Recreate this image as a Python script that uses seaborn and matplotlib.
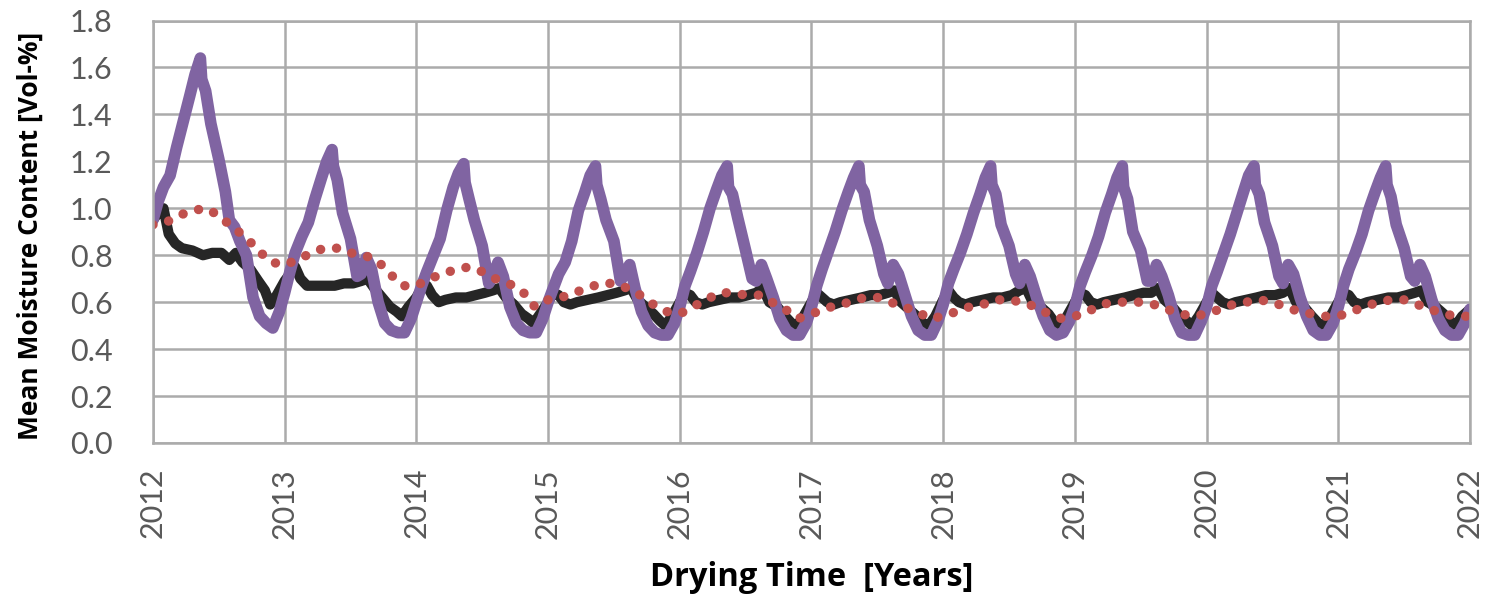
import matplotlib
matplotlib.use('Agg')
import matplotlib.pyplot as plt
import pandas as pd
import seaborn as sns

sns.set_style('white')
plt.rcParams['font.family'] = ['Lato', 'DejaVu Sans']

years = [2012, 2013, 2014, 2015, 2016, 2017, 2018, 2019, 2020, 2021]
end_year = 2022

# purple series: points within each year (fraction of year)
purple_offsets = [0.00, 0.04, 0.08, 0.13, 0.18, 0.23, 0.28, 0.32, 0.36, 0.37, 0.40, 0.44,
                  0.50, 0.55, 0.58, 0.62, 0.66, 0.71, 0.76, 0.81, 0.86, 0.91, 0.96]
purple_rows = [
    [0.95, 1.03, 1.09, 1.14, 1.26, 1.37, 1.48, 1.57, 1.64, 1.55, 1.50, 1.36, 1.21, 1.07, 0.95, 0.92, 0.86, 0.80, 0.62, 0.54, 0.51, 0.49, 0.56],
    [0.64, 0.73, 0.81, 0.88, 0.94, 1.04, 1.13, 1.20, 1.25, 1.18, 1.12, 0.98, 0.87, 0.71, 0.72, 0.79, 0.74, 0.60, 0.51, 0.48, 0.47, 0.47, 0.53],
    [0.60, 0.67, 0.73, 0.80, 0.87, 0.99, 1.09, 1.15, 1.19, 1.11, 1.04, 0.95, 0.84, 0.68, 0.71, 0.77, 0.71, 0.58, 0.51, 0.48, 0.47, 0.47, 0.53],
    [0.60, 0.66, 0.72, 0.77, 0.86, 0.99, 1.07, 1.14, 1.18, 1.10, 1.04, 0.95, 0.86, 0.69, 0.72, 0.76, 0.66, 0.56, 0.50, 0.47, 0.46, 0.46, 0.51],
    [0.58, 0.67, 0.73, 0.81, 0.90, 1.00, 1.08, 1.14, 1.18, 1.09, 1.06, 0.96, 0.82, 0.70, 0.69, 0.76, 0.70, 0.62, 0.53, 0.48, 0.46, 0.46, 0.51],
    [0.58, 0.67, 0.74, 0.82, 0.90, 0.99, 1.07, 1.13, 1.18, 1.10, 1.07, 0.95, 0.84, 0.72, 0.68, 0.76, 0.72, 0.63, 0.54, 0.48, 0.46, 0.46, 0.52],
    [0.59, 0.68, 0.74, 0.81, 0.89, 0.98, 1.06, 1.13, 1.18, 1.10, 1.06, 0.93, 0.84, 0.72, 0.68, 0.76, 0.71, 0.62, 0.54, 0.48, 0.46, 0.47, 0.52],
    [0.58, 0.67, 0.73, 0.80, 0.88, 0.98, 1.06, 1.13, 1.18, 1.09, 1.04, 0.90, 0.82, 0.69, 0.69, 0.76, 0.71, 0.63, 0.53, 0.47, 0.46, 0.46, 0.52],
    [0.58, 0.67, 0.73, 0.81, 0.89, 0.98, 1.07, 1.14, 1.18, 1.10, 1.06, 0.94, 0.84, 0.71, 0.68, 0.76, 0.72, 0.62, 0.54, 0.48, 0.46, 0.46, 0.51],
    [0.58, 0.67, 0.74, 0.81, 0.89, 0.99, 1.07, 1.13, 1.18, 1.10, 1.05, 0.93, 0.83, 0.71, 0.69, 0.76, 0.71, 0.61, 0.53, 0.48, 0.46, 0.46, 0.51],
]
purple_end = 0.57

# black series
black_offsets = [0.00, 0.04, 0.08, 0.12, 0.17, 0.22, 0.30, 0.38, 0.45, 0.52, 0.58, 0.63,
                 0.68, 0.74, 0.80, 0.85, 0.89, 0.94]
black_rows = [
    [0.95, 0.98, 1.00, 0.89, 0.85, 0.83, 0.82, 0.80, 0.81, 0.81, 0.78, 0.81, 0.77, 0.74, 0.69, 0.65, 0.59, 0.63],
    [0.69, 0.72, 0.75, 0.70, 0.67, 0.67, 0.67, 0.67, 0.68, 0.68, 0.69, 0.70, 0.66, 0.62, 0.58, 0.56, 0.54, 0.58],
    [0.62, 0.66, 0.67, 0.63, 0.60, 0.61, 0.62, 0.62, 0.63, 0.64, 0.65, 0.66, 0.62, 0.59, 0.55, 0.53, 0.51, 0.55],
    [0.60, 0.64, 0.63, 0.60, 0.59, 0.60, 0.61, 0.62, 0.63, 0.64, 0.65, 0.66, 0.61, 0.58, 0.55, 0.52, 0.50, 0.54],
    [0.60, 0.64, 0.63, 0.60, 0.59, 0.60, 0.61, 0.62, 0.62, 0.63, 0.64, 0.66, 0.60, 0.58, 0.54, 0.51, 0.50, 0.54],
    [0.60, 0.64, 0.62, 0.60, 0.59, 0.60, 0.61, 0.62, 0.63, 0.63, 0.64, 0.65, 0.60, 0.57, 0.54, 0.51, 0.50, 0.54],
    [0.61, 0.65, 0.62, 0.60, 0.59, 0.60, 0.61, 0.62, 0.62, 0.63, 0.65, 0.66, 0.60, 0.58, 0.55, 0.51, 0.50, 0.54],
    [0.60, 0.64, 0.63, 0.60, 0.59, 0.60, 0.61, 0.62, 0.63, 0.64, 0.64, 0.66, 0.61, 0.58, 0.54, 0.52, 0.50, 0.54],
    [0.60, 0.64, 0.62, 0.60, 0.59, 0.60, 0.61, 0.62, 0.63, 0.63, 0.64, 0.66, 0.60, 0.58, 0.54, 0.51, 0.50, 0.54],
    [0.60, 0.64, 0.63, 0.60, 0.59, 0.60, 0.61, 0.62, 0.62, 0.63, 0.64, 0.65, 0.60, 0.58, 0.55, 0.52, 0.50, 0.54],
]
black_end = 0.57

# red dotted series
red_offsets = [0.0, 0.1, 0.2, 0.3, 0.4, 0.5, 0.6, 0.7, 0.8, 0.9]
red_rows = [
    [0.93, 0.94, 0.97, 0.99, 1.00, 0.97, 0.92, 0.88, 0.82, 0.77],
    [0.76, 0.78, 0.81, 0.83, 0.83, 0.81, 0.80, 0.78, 0.72, 0.67],
    [0.67, 0.70, 0.72, 0.74, 0.75, 0.73, 0.70, 0.68, 0.65, 0.58],
    [0.61, 0.62, 0.64, 0.66, 0.68, 0.68, 0.66, 0.63, 0.59, 0.56],
    [0.55, 0.58, 0.61, 0.64, 0.64, 0.63, 0.63, 0.60, 0.57, 0.53],
    [0.55, 0.57, 0.59, 0.60, 0.62, 0.62, 0.60, 0.58, 0.56, 0.53],
    [0.54, 0.56, 0.58, 0.59, 0.61, 0.61, 0.60, 0.58, 0.55, 0.53],
    [0.54, 0.56, 0.59, 0.60, 0.60, 0.60, 0.59, 0.57, 0.55, 0.54],
    [0.55, 0.57, 0.59, 0.60, 0.61, 0.60, 0.58, 0.56, 0.55, 0.54],
    [0.54, 0.56, 0.58, 0.60, 0.61, 0.61, 0.59, 0.57, 0.55, 0.54],
]
red_end = 0.54


def build(offsets, rows, end_val):
    t, v = [], []
    for yr, row in zip(years, rows):
        for off, val in zip(offsets, row):
            t.append(yr + off)
            v.append(val)
    t.append(end_year)
    v.append(end_val)
    return pd.DataFrame({'year': t, 'moisture': v})


df_black = build(black_offsets, black_rows, black_end)
df_purple = build(purple_offsets, purple_rows, purple_end)
df_red = build(red_offsets, red_rows, red_end)

fig = plt.figure(figsize=(14.98, 5.98), dpi=100)
ax = fig.add_axes([0.1021, 0.2592, 0.8792, 0.7065])

grid_c = '#ababab'
sns.lineplot(data=df_black, x='year', y='moisture', ax=ax, color='#262626', linewidth=7.4,
             estimator=None, sort=False, solid_joinstyle='round', solid_capstyle='round')
sns.lineplot(data=df_purple, x='year', y='moisture', ax=ax, color='#8064a2', linewidth=8.4,
             estimator=None, sort=False, solid_joinstyle='round', solid_capstyle='round')
sns.lineplot(data=df_red, x='year', y='moisture', ax=ax, color='#c0504d', linewidth=6.8,
             estimator=None, sort=False, linestyle=(0, (0.01, 1.7)), dash_capstyle='round')

ax.set_xlim(2012, 2022)
ax.set_ylim(0, 1.8)
ax.set_xticks(range(2012, 2023))
ax.set_yticks([i * 0.2 for i in range(10)])
ax.set_yticklabels([f'{i * 0.2:.1f}' for i in range(10)])
ax.grid(True, color=grid_c, linewidth=1.8)
ax.set_axisbelow(True)
for s in ax.spines.values():
    s.set_color(grid_c)
    s.set_linewidth(1.8)
ax.tick_params(axis='x', length=0, pad=18, labelsize=22, labelcolor='#595959', labelrotation=90)
ax.tick_params(axis='y', length=0, pad=29, labelsize=22, labelcolor='#595959')

lab_font = ['Open Sans', 'DejaVu Sans']
ax.set_xlabel('Drying Time  [Years]', fontsize=23.5, fontweight='bold', color='black',
              va='center', family=lab_font)
ax.set_ylabel('Mean Moisture Content [Vol-%]', fontsize=19, fontweight='bold', color='black',
              va='center', family=lab_font)
ax.xaxis.set_label_coords(0.5, -0.3195)
ax.yaxis.set_label_coords(-0.0934, 0.49)

fig.savefig('out.png', dpi=100, facecolor='white')
